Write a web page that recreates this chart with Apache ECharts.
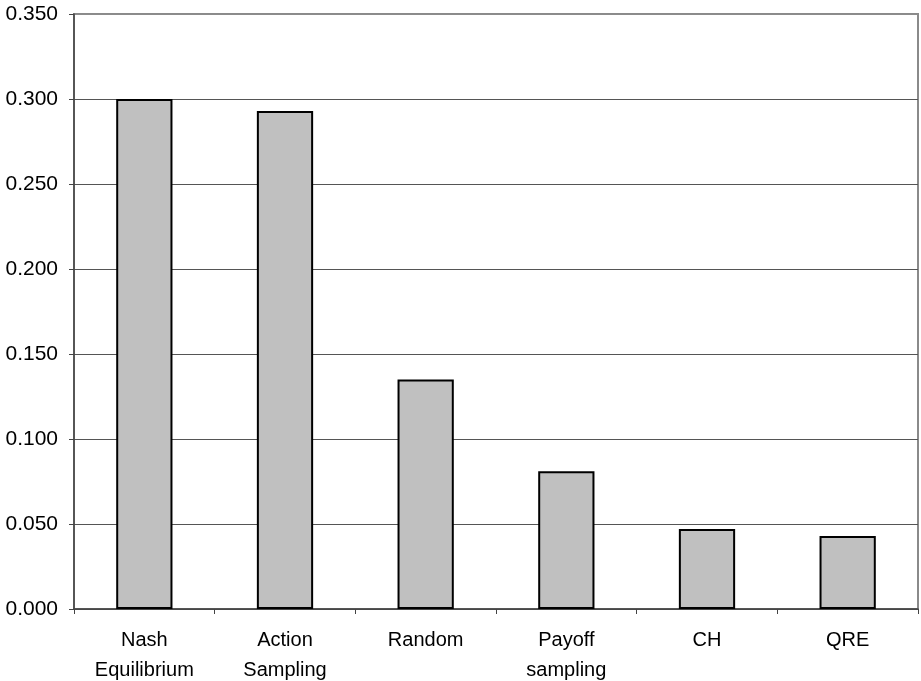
<!DOCTYPE html>
<html>
<head>
<meta charset="utf-8">
<script src="https://cdn.jsdelivr.net/npm/echarts@6/dist/echarts.min.js"></script>
<style>
  html, body { margin: 0; padding: 0; background: #ffffff; }
  #chart { width: 921px; height: 681px; }
</style>
</head>
<body>
<div id="chart"></div>
<script>
// Model categories (line breaks as shown under the axis)
const categories = ['Nash\nEquilibrium', 'Action\nSampling', 'Random', 'Payoff\nsampling', 'CH', 'QRE'];
// Values per model
const values = [0.300, 0.293, 0.135, 0.081, 0.047, 0.043];
// Value axis range and step
const yMin = 0;
const yMax = 0.35;
const yStep = 0.05;

const chart = echarts.init(document.getElementById('chart'), null, { renderer: 'canvas' });

const font = 'Liberation Sans, Arial, sans-serif';

chart.setOption({
  animation: false,
  backgroundColor: '#ffffff',
  grid: {
    left: 74, right: 3, top: 14, bottom: 72,
    outerBoundsMode: 'none',
    containLabel: false,
    show: true,
    borderColor: '#8a8a8a',
    borderWidth: 2,
    backgroundColor: 'transparent'
  },
  xAxis: {
    type: 'category',
    data: categories,
    boundaryGap: true,
    axisLine: { show: true, lineStyle: { color: '#444444', width: 1.5 } },
    axisTick: { show: true, alignWithLabel: false, length: 5, inside: false, lineStyle: { color: '#444444', width: 1 } },
    axisLabel: {
      color: '#000000', fontFamily: font, fontSize: 20, lineHeight: 30, margin: 16, interval: 0
    },
    splitLine: { show: false }
  },
  yAxis: {
    type: 'value',
    min: yMin, max: yMax, interval: yStep,
    axisLine: { show: true, lineStyle: { color: '#444444', width: 1.5 } },
    axisTick: { show: true, length: 5, lineStyle: { color: '#444444', width: 1 } },
    axisLabel: {
      color: '#000000', fontFamily: font, fontSize: 21, margin: 16,
      formatter: v => v.toFixed(3)
    },
    splitLine: {
      show: true,
      lineStyle: {
        color: ['#555555', '#555555', '#555555', '#555555', '#555555', '#555555', '#555555', '#8c8c8c'],
        width: 1
      }
    }
  },
  series: [{
    type: 'bar',
    data: values,
    barWidth: '40%',
    itemStyle: { color: '#c0c0c0', borderColor: '#000000', borderWidth: 2 }
  }]
});
</script>
</body>
</html>
